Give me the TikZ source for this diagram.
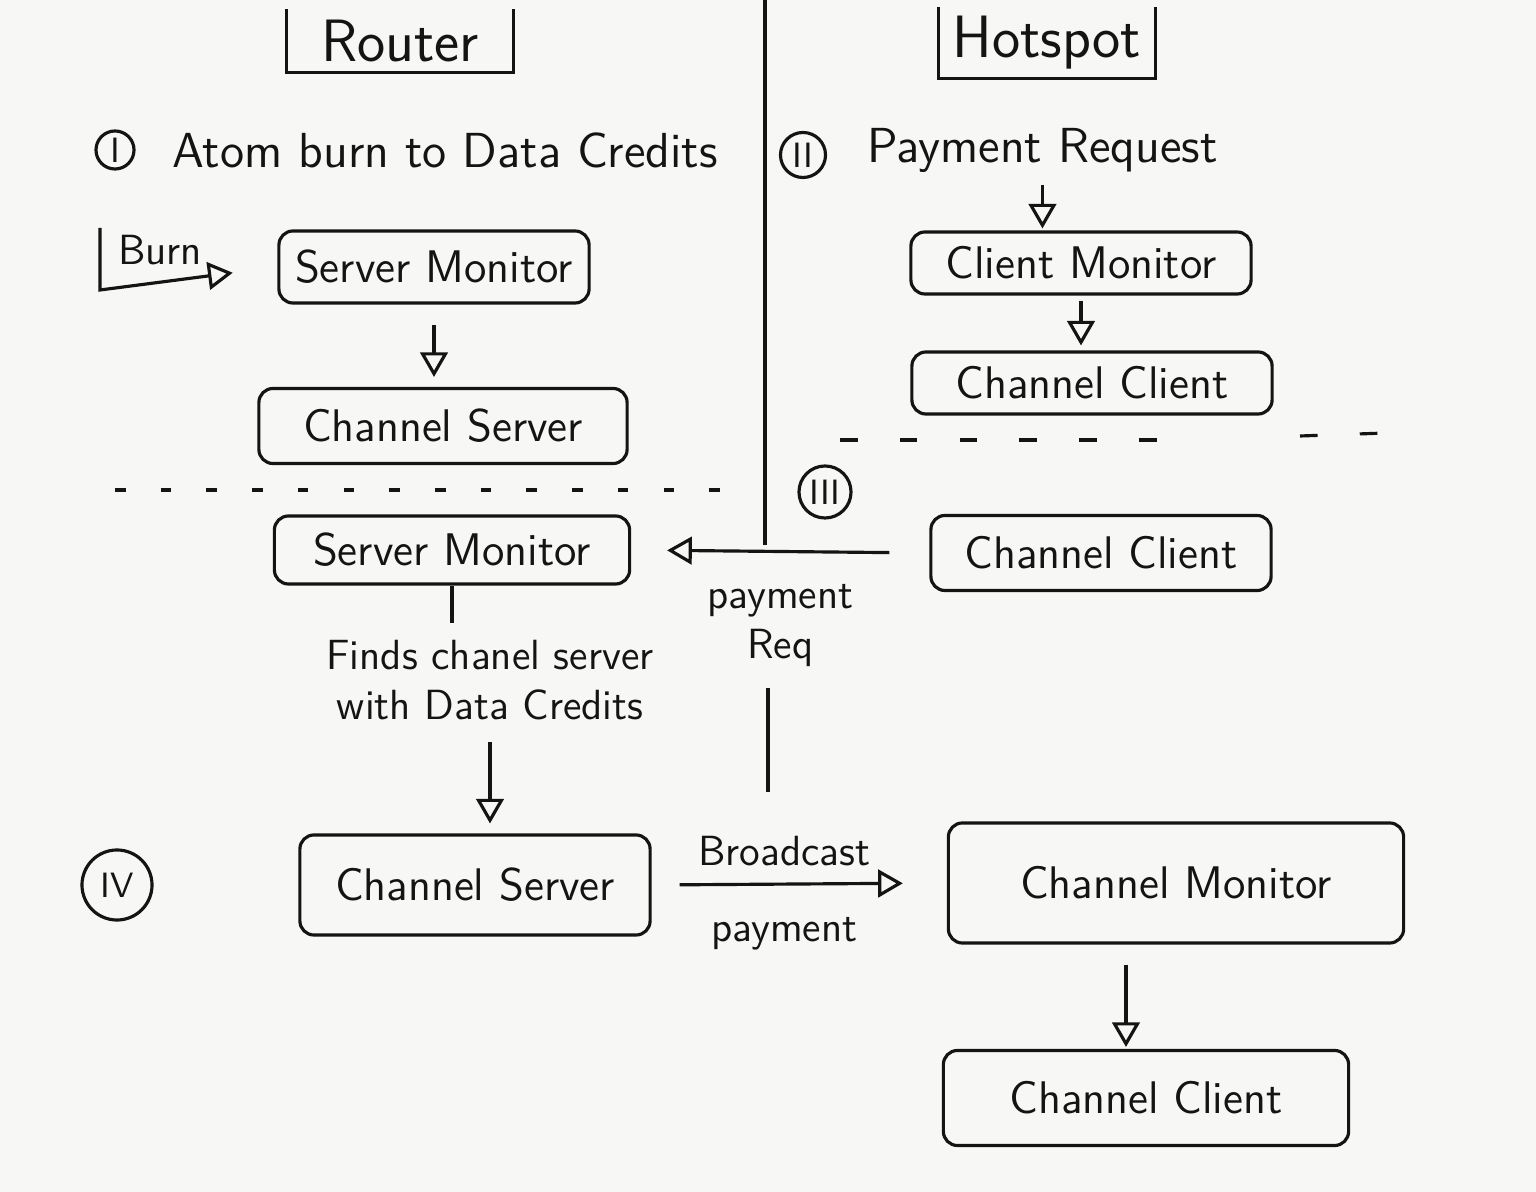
\documentclass[tikz,border=0pt]{standalone}
\usepackage{tikz}
\usetikzlibrary{arrows}
\definecolor{paper}{RGB}{247,247,245}
\definecolor{ink}{RGB}{20,20,20}

\begin{document}
\begin{tikzpicture}[x=0.01cm, y=-0.01cm, color=ink]
	\tikzset{box/.style={shape=rectangle, draw, rounded corners=4pt, line width=0.9pt, font=\sffamily\fontsize{13}{15}\selectfont}}
	\tikzset{tag/.style={inner sep=0pt, font=\sffamily\fontsize{17}{19}\selectfont}}
	\tikzset{title/.style={anchor=west, font=\sffamily\fontsize{14}{16}\selectfont}}
	\tikzset{stage/.style={shape=circle, draw, line width=0.9pt, inner sep=1pt, minimum size=0.45cm, font=\sffamily\fontsize{10}{12}\selectfont}}
	\tikzset{note/.style={align=center, font=\sffamily\fontsize{12}{14}\selectfont}}
	\tikzset{flow/.style={-open triangle 60, line width=0.9pt}}
	\tikzset{wire/.style={line width=0.9pt}}
	\fill[paper] (0,0) rectangle (1536,1192);
	\useasboundingbox (0,0) rectangle (1536,1192);
	%headers
	\node[tag, minimum width=2.26cm, minimum height=0.62cm] (router) at (400,41) {Router};
	\node[tag, minimum width=2.15cm, minimum height=0.7cm] (hotspot) at (1047,43) {Hotspot};
	\draw[wire] (router.north west) |- (router.south east) -- (router.north east);
	\draw[wire] (hotspot.north west) |- (hotspot.south east) -- (hotspot.north east);
	%stages
	\node[stage, minimum size=0.38cm] (s1) at (115,150) {I};
	\node[title] (burnDC) at (160,150) {Atom burn to Data Credits};
	\node[stage] (s2) at (803,155) {II};
	\node[title] (payreq) at (855,150) {Payment Request};
	\node[stage, minimum size=0.52cm] (s3) at (825,492) {III};
	\node[stage, minimum size=0.7cm] (s4) at (117,885) {IV};
	%boxes
	\node[box, minimum width=3.1cm, minimum height=0.72cm] (sm1) at (434,267) {Server Monitor};
	\node[box, minimum width=3.68cm, minimum height=0.75cm] (cs1) at (443,426) {Channel Server};
	\node[box, minimum width=3.4cm, minimum height=0.62cm] (cm) at (1081,263) {Client Monitor};
	\node[box, minimum width=3.6cm, minimum height=0.62cm] (cc1) at (1092,383) {Channel Client};
	\node[box, minimum width=3.55cm, minimum height=0.68cm] (sm2) at (452,550) {Server Monitor};
	\node[box, minimum width=3.4cm, minimum height=0.75cm] (cc2) at (1101,553) {Channel Client};
	\node[box, minimum width=3.5cm, minimum height=1.0cm] (cs2) at (475,885) {Channel Server};
	\node[box, minimum width=4.55cm, minimum height=1.2cm] (chm) at (1176,883) {Channel Monitor};
	\node[box, minimum width=4.05cm, minimum height=0.95cm] (cc3) at (1146,1098) {Channel Client};
	%labels
	\node[note] (burn) at (160,250) {Burn};
	\node[note] (finds) at (490,680) {Finds chanel server\\with Data Credits};
	\coordinate (burntop) at (100,228);
	\coordinate (burnbend) at (100,290);
	%separators
	\draw[wire] (765,0) -- (765,545);
	\draw[wire] (768,688) -- (768,792);
	\draw[wire, dash pattern=on 3pt off 10pt] (115,490) -- (735,490);
	\draw[wire, dash pattern=on 5pt off 12pt] (840,440) -- (1160,440);
	\draw[wire, dash pattern=on 5pt off 12pt] (1300,436) -- (1415,432);
	%edges
	\draw[flow, shorten >=0.45cm] (burntop) -- (burnbend) -- (sm1.west);
	\path (sm1.south) edge[flow, shorten <=0.2cm, shorten >=0.1cm] (sm1.south |- cs1.north);
	\path (payreq.south) edge[flow, shorten >=0.02cm] (payreq.south |- cm.north);
	\path (cm.south) edge[flow, shorten <=0.05cm, shorten >=0.05cm] (cm.south |- cc1.north);
	\path (cc2.west) edge[flow, shorten <=0.4cm, shorten >=0.36cm] node[note, below=0.2cm] {payment\\Req} (sm2.east);
	\path (sm2.south) edge[wire, shorten >=0.05cm] (sm2.south |- finds.north);
	\path (finds.south) edge[flow, shorten <=0.1cm, shorten >=0.1cm] (finds.south |- cs2.north);
	\path (cs2.east) edge[flow, shorten <=0.28cm, shorten >=0.44cm] node[note, pos=0.45, above=0.05cm] {Broadcast} node[note, pos=0.45, below=0.2cm] {payment} (chm.west);
	\path ([xshift=-0.5cm]chm.south) edge[flow, shorten <=0.2cm, shorten >=0.02cm] ([xshift=-0.5cm]chm.south |- cc3.north);
\end{tikzpicture}
\end{document}
